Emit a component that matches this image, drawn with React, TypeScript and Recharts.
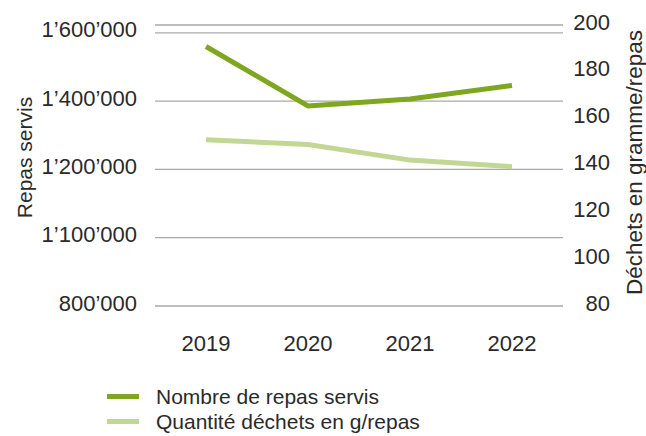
import { LineChart, Line, XAxis, YAxis, CartesianGrid } from 'recharts'

const years = ['2019', '2020', '2021', '2022']
const mealsServed = [1560000, 1386000, 1406000, 1446000]
const wastePerMeal = [151, 149, 142.3, 139.5]

const leftTicks = [800000, 1000000, 1200000, 1400000, 1600000]
const leftTickLabels = ['800’000', '1’100’000', '1’200’000', '1’400’000', '1’600’000']
const rightTicks = [80, 100, 120, 140, 160, 180, 200]

const seriesNames = ['Nombre de repas servis', 'Quantité déchets en g/repas']

const data = years.map((y, i) => ({ year: y, meals: mealsServed[i], waste: wastePerMeal[i] }))

const DARK = '#7ea61f'
const LIGHT = '#c3d794'
const TEXT = '#2a2a2a'
const FONT = '"Liberation Sans", Arial, sans-serif'

const LeftTick = (p: any) => {
  const i = leftTicks.indexOf(p.payload.value)
  return (
    <text x={p.x} y={p.y - 3} textAnchor="end" dominantBaseline="central" fontSize={22} fill={TEXT} fontFamily={FONT}>
      {i >= 0 ? leftTickLabels[i] : p.payload.value}
    </text>
  )
}

const RightTick = (p: any) => (
  <text x={p.x + 47} y={p.y - 3} textAnchor="end" dominantBaseline="central" fontSize={22} fill={TEXT} fontFamily={FONT}>
    {p.payload.value}
  </text>
)

export default function App() {
  return (
    <div style={{ position: 'absolute', left: 0, top: 0, width: 646, height: 436, background: '#fff', fontFamily: FONT }}>
      <LineChart width={646} height={436} data={data} margin={{ top: 25, right: 0, bottom: 80, left: 0 }}>
        <CartesianGrid yAxisId="left" horizontal vertical={false} stroke="#a9a9a9" strokeWidth={1.3} />
        <XAxis
          dataKey="year"
          padding={{ left: 51, right: 51 }}
          axisLine={false}
          tickLine={false}
          tickSize={0}
          tickMargin={29}
          height={50}
          tick={{ fontSize: 22, fill: TEXT, fontFamily: FONT }}
        />
        <YAxis
          yAxisId="left"
          width={155}
          domain={[800000, 1623000]}
          ticks={leftTicks}
          axisLine={false}
          tickLine={false}
          tickSize={0}
          tickMargin={18}
          tick={<LeftTick />}
          label={{ value: 'Repas servis', angle: -90, position: 'insideLeft', offset: 25, dy: -8, fontSize: 21, fill: TEXT, fontFamily: FONT, style: { textAnchor: 'middle' } }}
        />
        <YAxis
          yAxisId="right"
          orientation="right"
          width={83}
          domain={[80, 200]}
          ticks={rightTicks}
          axisLine={false}
          tickLine={false}
          tickSize={0}
          tickMargin={0}
          tick={<RightTick />}
          label={{ value: 'Déchets en gramme/repas', angle: -90, position: 'insideRight', offset: 12, dy: -3, fontSize: 22.5, fill: TEXT, fontFamily: FONT, style: { textAnchor: 'middle' } }}
        />
        <Line yAxisId="right" type="linear" dataKey="waste" stroke={LIGHT} strokeWidth={5} dot={false} isAnimationActive={false} />
        <Line yAxisId="left" type="linear" dataKey="meals" stroke={DARK} strokeWidth={5} dot={false} isAnimationActive={false} />
      </LineChart>

      <div style={{ position: 'absolute', left: 107, top: 384 }}>
        {seriesNames.map((name, i) => (
          <div key={name} style={{ display: 'flex', alignItems: 'center', height: 25 }}>
            <div style={{ width: 32, height: 5, background: i === 0 ? DARK : LIGHT, marginRight: 17 }} />
            <span style={{ fontSize: 21, color: TEXT, lineHeight: '25px' }}>{name}</span>
          </div>
        ))}
      </div>
    </div>
  )
}
